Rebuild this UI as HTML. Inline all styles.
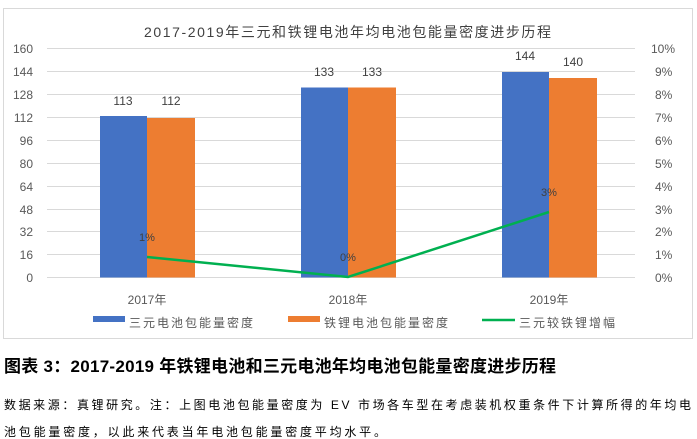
<!DOCTYPE html>
<html><head><meta charset="utf-8"><style>
body{margin:0;width:697px;height:439px;background:#fff;overflow:hidden;font-family:"Liberation Sans","Noto Sans CJK SC",sans-serif;}
svg{position:absolute;left:0;top:0}
text{font-family:"Liberation Sans","Noto Sans CJK SC",sans-serif;}
</style></head><body>
<svg width="697" height="439" viewBox="0 0 697 439">
<rect x="3.5" y="8.5" width="689" height="330" fill="#fff" stroke="#d9d9d9"/>
<text x="144" y="37" font-size="14" fill="#404040" textLength="407" lengthAdjust="spacing">2017-2019年三元和铁锂电池年均电池包能量密度进步历程</text>
<g stroke="#d9d9d9" stroke-width="1">
<line x1="47" x2="635" y1="48.5" y2="48.5"/><line x1="47" x2="635" y1="71.5" y2="71.5"/><line x1="47" x2="635" y1="94.5" y2="94.5"/><line x1="47" x2="635" y1="117.5" y2="117.5"/><line x1="47" x2="635" y1="140.5" y2="140.5"/><line x1="47" x2="635" y1="163.5" y2="163.5"/><line x1="47" x2="635" y1="186.5" y2="186.5"/><line x1="47" x2="635" y1="209.5" y2="209.5"/><line x1="47" x2="635" y1="231.5" y2="231.5"/><line x1="47" x2="635" y1="254.5" y2="254.5"/><line x1="47" x2="635" y1="277.5" y2="277.5"/>
</g>
<g font-size="12" fill="#595959" text-anchor="end">
<text x="33" y="53">160</text><text x="33" y="76">144</text><text x="33" y="99">128</text><text x="33" y="122">112</text><text x="33" y="145">96</text><text x="33" y="168">80</text><text x="33" y="191">64</text><text x="33" y="214">48</text><text x="33" y="236">32</text><text x="33" y="259">16</text><text x="33" y="282">0</text>
</g>
<g font-size="12" fill="#595959" text-anchor="start">
<text x="651" y="53">10%</text><text x="655" y="76">9%</text><text x="655" y="99">8%</text><text x="655" y="122">7%</text><text x="655" y="145">6%</text><text x="655" y="168">5%</text><text x="655" y="191">4%</text><text x="655" y="214">3%</text><text x="655" y="236">2%</text><text x="655" y="259">1%</text><text x="655" y="282">0%</text>
</g>
<g fill="#4472c4">
<rect x="100" y="116" width="47" height="161.5"/><rect x="301" y="87.5" width="47" height="190"/><rect x="502" y="72" width="47" height="205.5"/>
</g>
<g fill="#ed7d31">
<rect x="147" y="118" width="48" height="159.5"/><rect x="348" y="87.5" width="48" height="190"/><rect x="549" y="78" width="48" height="199.5"/>
</g>
<g font-size="12" fill="#404040" text-anchor="middle">
<text x="123" y="105">113</text><text x="171" y="105">112</text>
<text x="324" y="76">133</text><text x="372" y="76">133</text>
<text x="525" y="60">144</text><text x="573" y="66">140</text>
</g>
<polyline points="147,257 348,277 549,212" fill="none" stroke="#00b050" stroke-width="2.5"/>
<g font-size="11" fill="#404040" text-anchor="middle">
<text x="147" y="241">1%</text><text x="348" y="261">0%</text><text x="549" y="196">3%</text>
</g>
<g font-size="12" fill="#595959" text-anchor="middle">
<text x="147" y="304">2017年</text><text x="348" y="304">2018年</text><text x="549" y="304">2019年</text>
</g>
<rect x="93" y="316" width="32" height="6" fill="#4472c4"/>
<text x="129" y="327" font-size="12" fill="#595959" letter-spacing="2">三元电池包能量密度</text>
<rect x="288" y="316" width="32" height="6" fill="#ed7d31"/>
<text x="324" y="327" font-size="12" fill="#595959" letter-spacing="2">铁锂电池包能量密度</text>
<line x1="482" x2="515" y1="320" y2="320" stroke="#00b050" stroke-width="2.5"/>
<text x="519" y="327" font-size="12" fill="#595959" letter-spacing="2">三元较铁锂增幅</text>
<text x="4" y="372" font-size="17" font-weight="bold" fill="#000" textLength="552" lengthAdjust="spacing">图表 3：2017-2019 年铁锂电池和三元电池年均电池包能量密度进步历程</text>
<text x="4" y="409" font-size="12" fill="#000" textLength="687" lengthAdjust="spacing">数据来源：真锂研究。注：上图电池包能量密度为 EV 市场各车型在考虑装机权重条件下计算所得的年均电</text>
<text x="4" y="436" font-size="12" fill="#000" textLength="382" lengthAdjust="spacing">池包能量密度，以此来代表当年电池包能量密度平均水平。</text>
</svg>
</body></html>
